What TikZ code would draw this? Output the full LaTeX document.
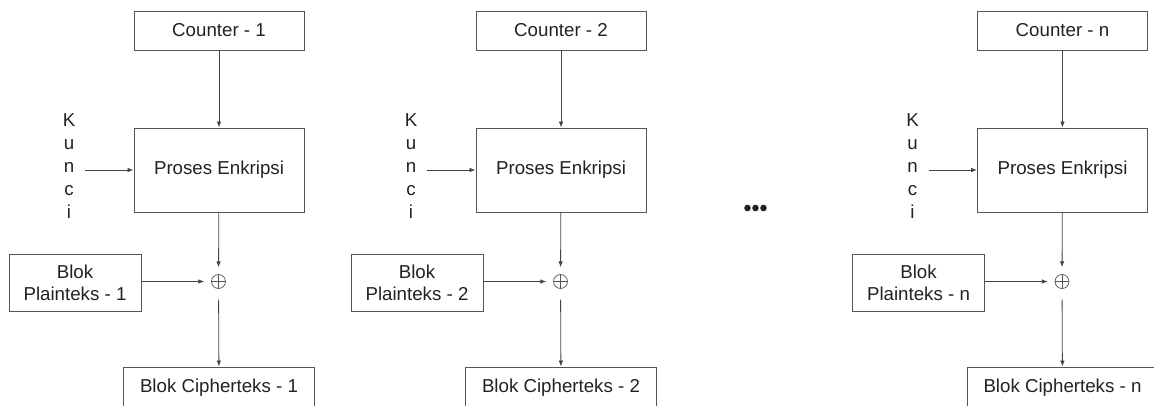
\documentclass[tikz,border=0pt]{standalone}
\usepackage{fontspec}
\setmainfont{Liberation Sans}
\usetikzlibrary{arrows.meta}
\definecolor{edge}{HTML}{555555}
\definecolor{ink}{HTML}{222222}
\begin{document}
\begin{tikzpicture}[x=1pt,y=-1pt,
  font=\fontsize{18.7}{22}\selectfont,
  box/.style={draw=edge, line width=0.9pt, text=ink, inner sep=0pt, align=center},
  keytext/.style={text=ink, align=center, inner xsep=10pt, inner ysep=0pt,
    font=\fontsize{18.7}{23}\selectfont},
  arr/.style={draw=ink!85, line width=0.8pt, -{Latex[length=6pt,width=4.5pt]}},
  xor/.style={circle, minimum size=28pt, inner sep=0pt,
    path picture={
      \draw[edge, line width=0.7pt] (path picture bounding box.center) circle (7pt);
      \draw[edge, line width=0.7pt]
        ([xshift=-7pt]path picture bounding box.center) -- ([xshift=7pt]path picture bounding box.center)
        ([yshift=-7pt]path picture bounding box.center) -- ([yshift=7pt]path picture bounding box.center);
    }},
]
\useasboundingbox (0,0) rectangle (1154,406);

% one CTR stage per column
\foreach \cx/\lab/\id in {219/1/a, 561/2/b, 1062.5/n/c} {
  \node[box, minimum width=170pt, minimum height=39pt] (ctr\id) at (\cx,30.5) {Counter - \lab};
  \node[box, minimum width=170pt, minimum height=84pt] (enc\id) at (\cx,170) {Proses Enkripsi};
  \node[keytext] (key\id) at (\cx-150,166) {K\\u\\n\\c\\i};
  \node[box, minimum width=132pt, minimum height=57pt] (pt\id) at (\cx-144,282.5) {Blok\\Plainteks - \lab};
  \node[xor] (x\id) at (\cx-0.5,281.5) {};
  \node[box, minimum width=191pt, minimum height=41pt] (ct\id) at (\cx,387.5) {Blok Cipherteks - \lab};

  \draw[arr] (ctr\id) -- (enc\id);
  \draw[arr] (key\id.east |- enc\id.west) -- (enc\id.west);
  \draw[arr] (enc\id) -- (x\id);
  \draw[arr] (pt\id.east |- x\id) -- (x\id);
  \draw[arr, shorten <=4pt] (x\id) -- (ct\id);
}

% ellipsis between the second and the last stage
\fill[ink] (747.5,208) circle (3.3pt) (755.5,208) circle (3.3pt) (763.5,208) circle (3.3pt);
\end{tikzpicture}
\end{document}
